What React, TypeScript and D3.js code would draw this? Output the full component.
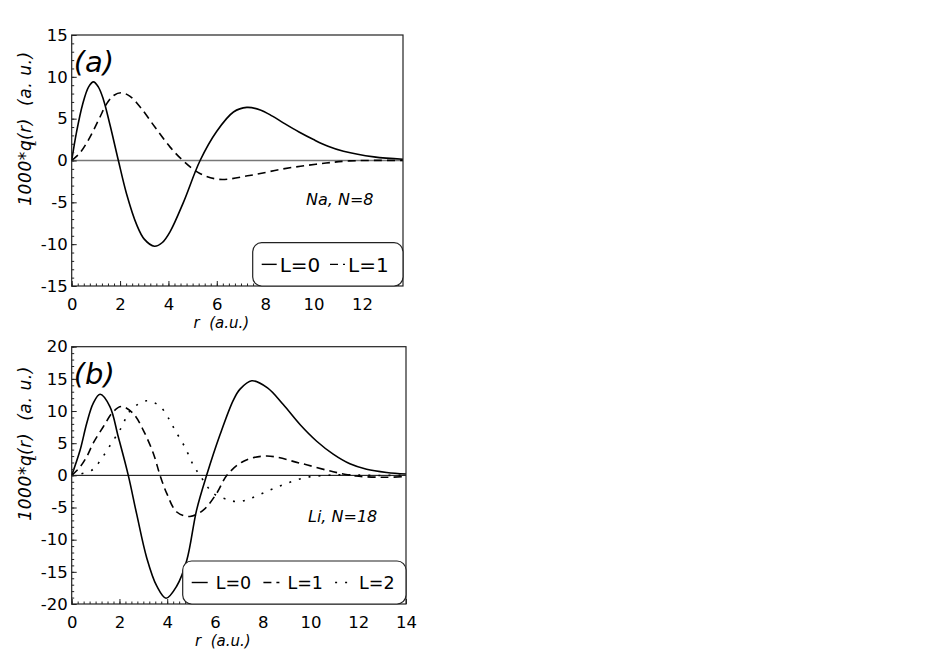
import React, { useEffect, useRef } from 'react'
import * as d3 from 'd3'

type Pt = [number, number]

// panel (a): Na, N=8  -- r (a.u.), 1000*q_L(r)
const naL0: Pt[] = [
  [0, 0], [0.2, 3.4], [0.45, 6.7], [0.7, 8.8], [0.9, 9.4], [1.1, 8.8], [1.31, 7.3], [1.58, 4.3],
  [1.93, 0], [2.27, -4.0], [2.69, -7.7], [3.0, -9.4], [3.42, -10.25], [3.75, -9.8], [4.07, -8.5],
  [4.62, -5.0], [5.31, 0], [6.0, 3.5], [6.69, 5.8], [7.24, 6.35], [7.8, 6.05], [8.3, 5.3],
  [8.75, 4.5], [9.4, 3.4], [10.0, 2.5], [10.6, 1.7], [11.24, 1.1], [12.5, 0.43], [13.7, 0.15],
]
const naL1: Pt[] = [
  [0, 0], [0.34, 0.9], [0.62, 2.1], [0.9, 3.6], [1.17, 5.2], [1.45, 6.8], [1.75, 7.8], [2.05, 8.1],
  [2.4, 7.7], [2.83, 6.4], [3.44, 4.0], [4.07, 1.6], [4.6, 0], [5.3, -1.55], [6.1, -2.25],
  [7.35, -1.8], [8.75, -1.0], [10.1, -0.45], [11.5, -0.05], [13.7, 0],
]

// panel (b): Li, N=18
const liL0: Pt[] = [
  [0, 0], [0.35, 3.9], [0.63, 8.1], [0.9, 11.2], [1.19, 12.6], [1.6, 10.7], [1.95, 6.0], [2.37, 0],
  [2.72, -6.0], [3.14, -12.8], [3.56, -17.2], [3.95, -19.1], [4.4, -17.2], [4.82, -13.2],
  [5.23, -5.4], [5.65, 0], [6.21, 6.3], [6.77, 11.7], [7.05, 13.4], [7.54, 14.7], [8.2, 13.6],
  [8.86, 11.0], [9.56, 7.9], [10.26, 5.3], [10.95, 3.3], [11.65, 1.8], [12.35, 0.95], [13.2, 0.45],
  [14, 0.2],
]
const liL1: Pt[] = [
  [0, 0], [0.35, 1.3], [0.63, 2.9], [0.9, 5.0], [1.33, 7.6], [1.74, 9.9], [2.09, 10.7], [2.58, 9.6],
  [3.0, 7.0], [3.42, 3.4], [3.7, 0], [3.98, -2.8], [4.4, -5.7], [4.95, -6.4], [5.51, -5.4],
  [6.07, -2.8], [6.5, 0], [7.2, 2.2], [8.17, 3.0], [9.56, 1.9], [10.95, 0.56], [11.9, -0.1],
  [13.05, -0.3], [14, -0.2],
]
const liL2: Pt[] = [
  [0, 0], [0.35, 0.2], [0.84, 0.8], [1.12, 1.9], [1.6, 4.6], [2.09, 7.5], [2.44, 10.0], [3.14, 11.6],
  [3.7, 10.7], [4.1, 8.6], [4.33, 7.0], [4.74, 4.4], [5.09, 1.6], [5.37, 0], [5.93, -2.8],
  [6.56, -3.8], [7.0, -4.1], [7.47, -3.6], [8.17, -2.5], [9.0, -1.25], [9.84, -0.3], [10.68, 0],
  [11.5, 0.1], [12.35, 0], [14, 0],
]

const xTicksA = [0, 2, 4, 6, 8, 10, 12]
const yTicksA = [-15, -10, -5, 0, 5, 10, 15]
const xTicksB = [0, 2, 4, 6, 8, 10, 12, 14]
const yTicksB = [-20, -15, -10, -5, 0, 5, 10, 15, 20]
const legendA = ['L=0', 'L=1']
const legendB = ['L=0', 'L=1', 'L=2']

const dashes = [null, '8,5', '2,8']
const font = 'DejaVu Sans'

const panels = [
  {
    left: 71.7, right: 403, top: 35, bottom: 286,
    xDomain: [0, 13.7], yDomain: [-15, 15], xTicks: xTicksA, yTicks: yTicksA,
    series: [naL0, naL1], legend: legendA,
    zeroColor: '#777', zeroWidth: 1.5,
    tag: '(a)', note: 'Na, N=8', noteX: 306, noteY: 205,
    box: { x: 252.7, y: 242.7 }, legendX: 261.7, legendStep: 68.3, legendSize: 20, sampleLen: 15, textOff: 18,
  },
  {
    left: 71.7, right: 406, top: 346.7, bottom: 604,
    xDomain: [0, 14], yDomain: [-20, 20], xTicks: xTicksB, yTicks: yTicksB,
    series: [liL0, liL1, liL2], legend: legendB,
    zeroColor: '#000', zeroWidth: 1,
    tag: '(b)', note: 'Li, N=18', noteX: 308, noteY: 521.5,
    box: { x: 182.7, y: 561 }, legendX: 191.7, legendStep: 71.7, legendSize: 17.5, sampleLen: 16, textOff: 24,
  },
]

function drawPanel(svg: any, p: any) {
  const x = d3.scaleLinear().domain(p.xDomain).range([p.left, p.right])
  const y = d3.scaleLinear().domain(p.yDomain).range([p.bottom, p.top])
  const g = svg.append('g')

  g.append('line')
    .attr('x1', p.left).attr('x2', p.right)
    .attr('y1', y(0)).attr('y2', y(0))
    .attr('stroke', p.zeroColor).attr('stroke-width', p.zeroWidth)

  const line = d3.line<Pt>()
    .x((d) => x(d[0]))
    .y((d) => y(d[1]))
    .curve(d3.curveCatmullRom.alpha(0.5))

  p.series.forEach((s: Pt[], i: number) => {
    g.append('path')
      .attr('d', line(s))
      .attr('fill', 'none')
      .attr('stroke', '#000')
      .attr('stroke-width', 1.6)
      .attr('stroke-dasharray', dashes[i])
  })

  // minor ticks
  g.append('g')
    .attr('transform', `translate(0,${p.bottom})`)
    .call(d3.axisBottom(x).tickValues(d3.range(0, p.xDomain[1], 0.25)).tickSize(-2.5).tickFormat(() => ''))
    .call((a: any) => a.select('.domain').remove())
  g.append('g')
    .attr('transform', `translate(${p.left},0)`)
    .call(d3.axisLeft(y).tickValues(d3.range(p.yDomain[0], p.yDomain[1] + 0.5, 1)).tickSize(-2.5).tickFormat(() => ''))
    .call((a: any) => a.select('.domain').remove())

  // major ticks
  g.append('g')
    .attr('transform', `translate(0,${p.bottom})`)
    .call(d3.axisBottom(x).tickValues(p.xTicks).tickSizeInner(-5).tickSizeOuter(0).tickPadding(12).tickFormat((d: any) => String(d)))
    .call((a: any) => a.select('.domain').remove())
    .attr('font-size', 16.5).attr('font-family', font)
  g.append('g')
    .attr('transform', `translate(${p.left},0)`)
    .call(d3.axisLeft(y).tickValues(p.yTicks).tickSizeInner(-5).tickSizeOuter(0).tickPadding(4).tickFormat((d: any) => String(d)))
    .call((a: any) => a.select('.domain').remove())
    .attr('font-size', 16.5).attr('font-family', font)

  g.selectAll('.tick line').attr('stroke', '#222')

  // frame
  g.append('rect')
    .attr('x', p.left).attr('y', p.top)
    .attr('width', p.right - p.left).attr('height', p.bottom - p.top)
    .attr('fill', 'none').attr('stroke', '#222').attr('stroke-width', 1.2)

  // tag and note
  g.append('text')
    .attr('x', p.left + 2).attr('y', p.top + 37)
    .attr('font-family', font).attr('font-style', 'italic').attr('font-size', 29)
    .text(p.tag)
  g.append('text')
    .attr('x', p.noteX).attr('y', p.noteY)
    .attr('font-family', font).attr('font-style', 'italic').attr('font-size', 16)
    .text(p.note)

  // axis titles
  g.append('text')
    .attr('x', (p.left + p.right) / 2 - 16).attr('y', p.bottom + 42)
    .attr('text-anchor', 'middle')
    .attr('font-family', font).attr('font-style', 'italic').attr('font-size', 15)
    .text('r\u00a0\u00a0(a.u.)')
  const yt = g.append('text')
    .attr('transform', `translate(31,${(p.top + p.bottom) / 2 - 32}) rotate(-90)`)
    .attr('text-anchor', 'middle')
    .attr('font-family', font).attr('font-style', 'italic').attr('font-size', 17)
    .attr('letter-spacing', 0.6)
  yt.append('tspan').text('1000*q')
  yt.append('tspan').attr('font-size', 9).attr('dy', 5).attr('dx', -6).text('L')
  yt.append('tspan').attr('dy', -5).text('(r)\u00a0\u00a0(a.\u00a0u.)')

  // legend
  const bx = p.box.x
  const by = p.box.y
  g.append('rect')
    .attr('x', bx).attr('y', by)
    .attr('width', p.right - bx).attr('height', p.bottom - by)
    .attr('rx', 9).attr('ry', 9)
    .attr('fill', '#fff').attr('stroke', '#222').attr('stroke-width', 1.2)
  const ly = by + (p.bottom - by) / 2
  p.legend.forEach((name: string, i: number) => {
    const lx = p.legendX + i * p.legendStep
    g.append('line')
      .attr('x1', lx).attr('x2', lx + p.sampleLen)
      .attr('y1', ly).attr('y2', ly)
      .attr('stroke', '#000').attr('stroke-width', 1.4)
      .attr('stroke-dasharray', dashes[i])
    g.append('text')
      .attr('x', lx + p.textOff).attr('y', ly)
      .attr('dy', '0.36em')
      .attr('font-family', font).attr('font-size', p.legendSize)
      .text(name)
  })
}

const App = () => {
  const chartRef = useRef<SVGSVGElement>(null)

  useEffect(() => {
    const svg = d3.select(chartRef.current)
    svg.selectAll('*').remove()
    panels.forEach((p) => drawPanel(svg, p))
  }, [])

  return (
    <svg
      ref={chartRef}
      width={926}
      height={655}
      style={{ position: 'absolute', left: 0, top: 0, background: '#fff' }}
    ></svg>
  )
}

export default App
